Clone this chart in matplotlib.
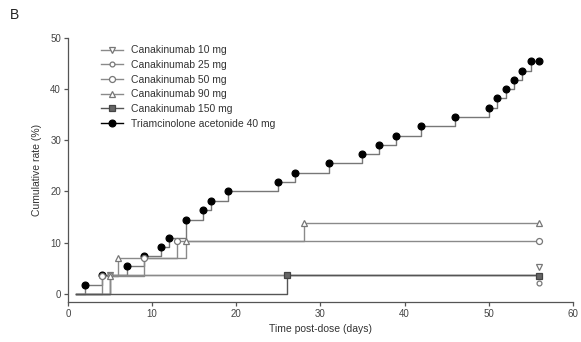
import matplotlib
matplotlib.use("Agg")
import matplotlib.pyplot as plt
from matplotlib.lines import Line2D

plt.rcParams['font.family'] = ['Liberation Sans', 'DejaVu Sans']

# event days and cumulative rate (%) after each event, per treatment group
groups = ["Canakinumab 10 mg", "Canakinumab 25 mg", "Canakinumab 50 mg",
          "Canakinumab 90 mg", "Canakinumab 150 mg", "Triamcinolone acetonide 40 mg"]

c10_days = [5]
c10_rate = [3.6]
c25_days = [5]
c25_rate = [3.7]
c50_days = [4, 9, 13]
c50_rate = [3.5, 6.9, 10.3]
c90_days = [5, 6, 14, 28]
c90_rate = [3.5, 6.9, 10.3, 13.8]
c150_days = [26]
c150_rate = [3.6]
tri_days = [2, 4, 7, 9, 11, 12, 14, 16, 17, 19, 25, 27, 31, 35, 37, 39,
            42, 46, 50, 51, 52, 53, 54, 55]
tri_rate = [1.8, 3.6, 5.5, 7.3, 9.1, 10.9, 14.5, 16.4, 18.2, 20.0, 21.8, 23.6,
            25.5, 27.3, 29.1, 30.9, 32.7, 34.5, 36.4, 38.2, 40.0, 41.8, 43.6, 45.5]

# end-of-follow-up symbols (spread apart where curves coincide)
end_day = 56
end_marks = [5.2, 2.1, 10.3, 13.8, 3.5, 45.5]
start_day = 1

all_days = [c10_days, c25_days, c50_days, c90_days, c150_days, tri_days]
all_rates = [c10_rate, c25_rate, c50_rate, c90_rate, c150_rate, tri_rate]

styles = [
    dict(marker='v', mfc='white', mec='#777777', ms=4, color='#8a8a8a'),
    dict(marker='o', mfc='white', mec='#777777', ms=3.5, color='#8a8a8a'),
    dict(marker='o', mfc='white', mec='#777777', ms=4.3, color='#8a8a8a'),
    dict(marker='^', mfc='white', mec='#777777', ms=4.3, color='#8a8a8a'),
    dict(marker='s', mfc='#666666', mec='#444444', ms=3.8, color='#555555'),
    dict(marker='o', mfc='black', mec='black', ms=4.9, color='#777777'),
]
z_order = [3, 3, 3, 3, 3, 2]

fig = plt.figure(figsize=(5.81, 3.42), dpi=100)
ax = fig.add_axes([0.117, 0.117, 0.869, 0.772])

for days, rates, st, z in zip(all_days, all_rates, styles, z_order):
    xs = [start_day] + days + [end_day]
    ys = [0] + rates + [rates[-1]]
    ax.step(xs, ys, where='post', color=st['color'], lw=1.0, zorder=z)
    ax.plot(days, rates, linestyle='none', marker=st['marker'], mfc=st['mfc'],
            mec=st['mec'], ms=st['ms'], mew=0.9, zorder=z + 0.5)

for em, st, z in zip(end_marks, styles, z_order):
    ax.plot([end_day], [em], linestyle='none', marker=st['marker'], mfc=st['mfc'],
            mec=st['mec'], ms=st['ms'], mew=0.9, zorder=z + 0.5)

handles = [Line2D([], [], color=('black' if i == 5 else st['color']), lw=1.0,
                  marker=st['marker'], mfc=st['mfc'], mec=st['mec'],
                  ms=st['ms'], mew=0.9)
           for i, st in enumerate(styles)]
ax.legend(handles, groups, loc='upper left', bbox_to_anchor=(0.05, 1.0),
          frameon=False, fontsize=7.5, handlelength=2.2, handletextpad=0.7,
          labelspacing=0.45, labelcolor='#333333', borderaxespad=0.3)

ax.set_xlim(0, 60)
ax.set_ylim(-1.6, 50)
ax.set_xticks(range(0, 61, 10))
ax.set_yticks(range(0, 51, 10))
for s in ['top', 'right']:
    ax.spines[s].set_visible(False)
for s in ['left', 'bottom']:
    ax.spines[s].set_color('#555555')
    ax.spines[s].set_linewidth(0.9)
ax.tick_params(direction='out', length=3, width=0.9, color='#555555',
               labelsize=7, labelcolor='#444444', pad=2)

ax.set_xlabel("Time post-dose (days)", fontsize=7.5, color='#333333', labelpad=4)
ax.set_ylabel("Cumulative rate (%)", fontsize=7.5, color='#333333', labelpad=6)
fig.text(0.017, 0.945, "B", fontsize=10, color='#222222')

fig.savefig("out.png", dpi=100)
